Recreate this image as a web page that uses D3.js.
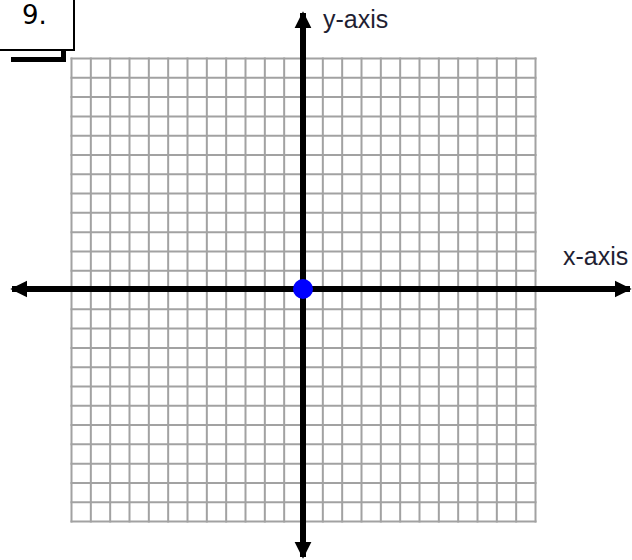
<!DOCTYPE html>
<html>
<head>
<meta charset="utf-8">
<script src="https://cdn.jsdelivr.net/npm/d3@7"></script>
<style>
  html, body { margin: 0; padding: 0; background: #fff; }
  svg { display: block; }
</style>
</head>
<body>
<svg id="chart" width="632" height="560"></svg>
<script>
// Data
const gridTicks = d3.range(-12, 13, 1);        // grid lines every unit, -12..12
const points = [{ x: 0, y: 0 }];               // plotted point (origin)
const problemLabel = "9.";
const xAxisLabel = "x-axis";
const yAxisLabel = "y-axis";

const svg = d3.select("#chart");
const x = d3.scaleLinear().domain([-12, 12]).range([71.5, 535.5]);
const y = d3.scaleLinear().domain([-12, 12]).range([521.5, 58.5]);

// Grid
const grid = svg.append("g").attr("stroke", "#a2a2a2").attr("stroke-width", 2);
grid.selectAll("line.v").data(gridTicks).enter().append("line")
  .attr("x1", d => x(d)).attr("x2", d => x(d))
  .attr("y1", y(12) - 1).attr("y2", y(-12) + 1);
grid.selectAll("line.h").data(gridTicks).enter().append("line")
  .attr("y1", d => y(d)).attr("y2", d => y(d))
  .attr("x1", x(-12) - 1).attr("x2", x(12) + 1);

// Axes with arrowheads
const defs = svg.append("defs");
defs.append("marker")
  .attr("id", "arrow")
  .attr("viewBox", "0 0 10 10")
  .attr("refX", 9).attr("refY", 5)
  .attr("markerUnits", "userSpaceOnUse")
  .attr("markerWidth", 17).attr("markerHeight", 18)
  .attr("orient", "auto-start-reverse")
  .append("path").attr("d", "M0,0 L10,5 L0,10 Z").attr("fill", "#000");

const x0 = x(0), y0 = y(0) - 1;
svg.append("line")
  .attr("x1", 12).attr("x2", 630)
  .attr("y1", y0).attr("y2", y0)
  .attr("stroke", "#000").attr("stroke-width", 6)
  .attr("marker-start", "url(#arrow)").attr("marker-end", "url(#arrow)");
svg.append("line")
  .attr("x1", x0 - 0.5).attr("x2", x0 - 0.5)
  .attr("y1", 13).attr("y2", 557)
  .attr("stroke", "#000").attr("stroke-width", 6)
  .attr("marker-start", "url(#arrow)").attr("marker-end", "url(#arrow)");

// Point
svg.selectAll("circle.pt").data(points).enter().append("circle")
  .attr("cx", d => x(d.x) - 0.5).attr("cy", d => y(d.y) - 1)
  .attr("r", 10).attr("fill", "#0000ff");

// Axis labels
svg.append("text").attr("x", 323).attr("y", 28)
  .attr("font-family", "Liberation Sans, Arial, sans-serif")
  .attr("font-size", 25).attr("fill", "#1f1f33").text(yAxisLabel);
svg.append("text").attr("x", 563).attr("y", 265)
  .attr("font-family", "Liberation Sans, Arial, sans-serif")
  .attr("font-size", 25).attr("fill", "#1f1f33").text(xAxisLabel);

// Problem number box with shadow
svg.append("path")
  .attr("d", "M11,59.5 L63.5,59.5 L63.5,50")
  .attr("fill", "none").attr("stroke", "#000").attr("stroke-width", 5);
svg.append("rect")
  .attr("x", -2).attr("y", -2).attr("width", 76).attr("height", 52)
  .attr("fill", "#fff").attr("stroke", "#000").attr("stroke-width", 2);
svg.append("text").attr("x", 22).attr("y", 24)
  .attr("font-family", "DejaVu Sans, Verdana, sans-serif")
  .attr("font-size", 26).attr("fill", "#000").text(problemLabel);
</script>
</body>
</html>
